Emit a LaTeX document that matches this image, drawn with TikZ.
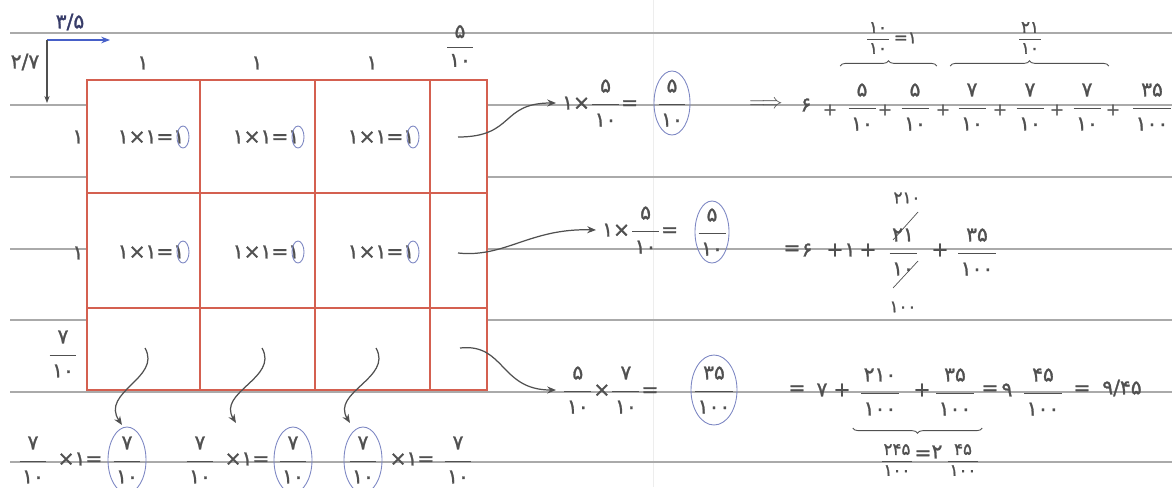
\documentclass[tikz,border=0pt]{standalone}
\usepackage{fontspec}
\usepackage{amsmath}
\usepackage{tikz}
\usetikzlibrary{arrows.meta,decorations.pathreplacing}
\newfontfamily\pf{DejaVu Sans}[FakeBold=1.3]
\definecolor{gridred}{RGB}{212,96,80}
\definecolor{rulegray}{RGB}{170,170,170}
\definecolor{inkgray}{RGB}{80,80,80}
\definecolor{ringblue}{RGB}{125,135,195}
\definecolor{axisblue}{RGB}{70,95,200}
\definecolor{navyink}{RGB}{55,60,105}
\newcommand{\fr}[2]{$\dfrac{\hbox{\pf\rule[-5pt]{0pt}{5pt}\kern1.5pt#1\kern1.5pt}}{\hbox{\pf\rule{0pt}{11pt}\kern1.5pt#2\kern1.5pt}}$}
\newcommand{\sfr}[2]{$\dfrac{\hbox{\pf\kern1pt#1\kern1pt}}{\hbox{\pf\kern1pt#2\kern1pt}}$}

\begin{document}
\begin{tikzpicture}[x=0.02cm,y=-0.02cm,
  every node/.style={text=inkgray,font=\pf\fontsize{11.5}{14}\selectfont},
  rule/.style={rulegray,line width=0.6pt},
  gridline/.style={gridred,line width=1.2pt},
  conn/.style={inkgray,line width=0.7pt,-{Stealth[length=5pt,width=4pt]}},
  ringline/.style={ringblue,line width=0.5pt},
  brc/.style={inkgray,line width=0.5pt,decorate,decoration={brace,amplitude=3pt}},
  note/.style={font=\pf\fontsize{9.5}{11}\selectfont}]
  \useasboundingbox (0,0) rectangle (1172,487);
  % ruled paper
  \draw[black!7] (653,0) -- (653,487);
  \foreach \y in {33,105,177,249,320,392,462}
    \draw[rule] (10,\y) -- (1172,\y);

  % area model
  \fill[white] (87,80) rectangle (487,390);
  \draw[gridline] (87,80) rectangle (487,390);
  \foreach \x in {200,315,430}
    \draw[gridline] (\x,80) -- (\x,390);
  \foreach \y in {193,308}
    \draw[gridline] (87,\y) -- (487,\y);

  % side lengths
  \node[text=navyink] (w) at (70,22) {۳/۵};
  \node (h) at (25,62) {۲/۷};
  \coordinate (o) at (47,40);
  \coordinate (ox) at (110,40);
  \coordinate (oy) at (47,103);
  \draw[axisblue,line width=0.6pt,-{Stealth[length=5pt]}] (o) -- (ox);
  \draw[inkgray,line width=0.6pt,-{Stealth[length=4pt]}] (o) -- (oy);
  \foreach \x in {143,257,372}
    \node at (\x,63) {۱};
  \node (cw) at (460,46) {\sfr{۵}{۱۰}};
  \node (r1) at (78,137) {۱};
  \node (r2) at (78,253) {۱};
  \node (r3) at (63,354) {\fr{۷}{۱۰}};

  % cells
  \foreach \x in {151,266,381}
    \foreach \y in {137,252} {
      \node at (\x,\y) {۱×۱=۱};
      \draw[ringline] (\x+32,\y) ellipse (6 and 11);
    }

  % partial products
  \node[anchor=west] (eqA) at (556,103) {۱×\fr{۵}{۱۰}=};
  \node (okA) at (672,103) {\fr{۵}{۱۰}};
  \draw[ringline] (okA.center) ellipse (18 and 32);
  \node[anchor=west] (eqB) at (596,230) {۱×\fr{۵}{۱۰}=};
  \node (okB) at (712,232) {\fr{۵}{۱۰}};
  \draw[ringline] (okB.center) ellipse (17 and 31);
  \node[anchor=west] (eqC) at (556,390) {\fr{۵}{۱۰}×\fr{۷}{۱۰}=};
  \node (okC) at (714,390) {\fr{۳۵}{۱۰۰}};
  \draw[ringline] (okC.center) ellipse (23 and 35);

  \coordinate (s1) at (458,137);
  \coordinate (s2) at (458,253);
  \coordinate (s3) at (460,348);
  \draw[conn] (s1) .. controls (515,137) and (500,103) .. (eqA.west);
  \draw[conn] (s2) .. controls (505,258) and (530,228) .. (eqB.west);
  \draw[conn] (s3) .. controls (505,343) and (500,390) .. (eqC.west);

  % bottom row
  \node (b1) at (33,460) {\fr{۷}{۱۰}};
  \node (m1) at (80,459) {×۱=};
  \node (k1) at (127,460) {\fr{۷}{۱۰}};
  \node (b2) at (200,460) {\fr{۷}{۱۰}};
  \node (m2) at (247,459) {×۱=};
  \node (k2) at (293,460) {\fr{۷}{۱۰}};
  \node (k3) at (363,460) {\fr{۷}{۱۰}};
  \node (m3) at (412,459) {×۱=};
  \node (b3) at (458,460) {\fr{۷}{۱۰}};
  \foreach \k in {k1,k2,k3}
    \draw[ringline] (\k.center) ellipse (19 and 33);
  \coordinate (d1) at (145,348);
  \coordinate (d2) at (262,348);
  \coordinate (d3) at (376,348);
  \coordinate (e1) at (122,425);
  \coordinate (e2) at (236,423);
  \coordinate (e3) at (350,423);
  \draw[conn] (d1) .. controls (162,378) and (100,392) .. (e1);
  \draw[conn] (d2) .. controls (279,378) and (217,392) .. (e2);
  \draw[conn] (d3) .. controls (393,378) and (331,392) .. (e3);

  % sum, first line
  \node (imp) at (766,105) {$\Longrightarrow$};
  \node at (806,105) {۶};
  \foreach \x in {830,885,943,1000,1057,1113}
    \node[note] at (\x,110) {+};
  \foreach \x/\n [count=\i] in {862/۵,915/۵,972/۷,1030/۷,1087/۷}
    \node (t\i) at (\x,107) {\fr{\n}{۱۰}};
  \node (t6) at (1152,107) {\fr{۳۵}{۱۰۰}};
  \coordinate (bA) at (0,66);
  \draw[brc] (t1.west |- bA) -- (t2.east |- bA);
  \draw[brc] (t3.west |- bA) -- (t5.east |- bA);
  \node[note] (pA) at (878,38) {\sfr{۱۰}{۱۰}};
  \node[note,anchor=west,inner sep=0pt] at ([xshift=-2pt]pA.east) {=۱};
  \node[note] (pB) at (1030,38) {\sfr{۲۱}{۱۰}};

  % sum, second line
  \foreach \x/\s in {792/=,807/۶,835/+,850/۱,868/+,940/+}
    \node at (\x,250) {\s};
  \node (u1) at (903,252) {\fr{۲۱}{۱۰}};
  \node (u2) at (977,252) {\fr{۳۵}{۱۰۰}};
  \node[note] at (907,198) {۲۱۰};
  \node[note] at (903,307) {۱۰۰};
  \draw[inkgray,line width=0.4pt] (893,240) -- (918,212);
  \draw[inkgray,line width=0.4pt] (893,288) -- (918,261);

  % sum, third line
  \foreach \x/\s in {797/=,822/۷,842/+,922/+,990/=,1007/۹,1082/=}
    \node at (\x,390) {\s};
  \node (v1) at (880,392) {\fr{۲۱۰}{۱۰۰}};
  \node (v2) at (955,392) {\fr{۳۵}{۱۰۰}};
  \node (v3) at (1043,392) {\fr{۴۵}{۱۰۰}};
  \node (v4) at (1122,388) {۹/۴۵};
  \coordinate (bC) at (0,428);
  \draw[brc] (v2.east |- bC) -- (v1.west |- bC);
  \node[note] (q1) at (897,460) {\sfr{۲۴۵}{۱۰۰}};
  \node at (923,455) {=};
  \node at (937,452) {۲};
  \node[note] (q2) at (963,460) {\sfr{۴۵}{۱۰۰}};
\end{tikzpicture}
\end{document}
